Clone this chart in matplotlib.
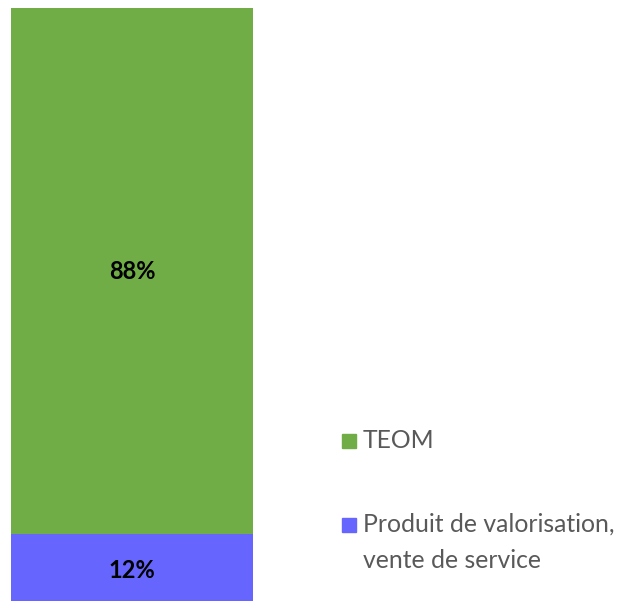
import matplotlib
matplotlib.use("Agg")
import matplotlib.pyplot as plt
from matplotlib.patches import Rectangle

categories = [""]
series_names = ["Produit de valorisation,\nvente de service", "TEOM"]
values_blue = [12]
values_green = [88]
colors = ["#6666FF", "#70AD47"]

W, H = 620, 601
fig = plt.figure(figsize=(W / 100, H / 100), dpi=100)
# bar spans pixel x 11..253, y 8..606 (clipped at bottom)
ax = fig.add_axes([11 / W, (H - 606) / H, 242 / W, 598 / H])
ax.bar(categories, values_blue, width=1.0, color=colors[0])
ax.bar(categories, values_green, bottom=values_blue, width=1.0, color=colors[1])
ax.set_xlim(-0.5, 0.5)
ax.set_ylim(0, 100)
ax.axis("off")

font = ["Lato", "DejaVu Sans"]
ax.text(0, values_blue[0] / 2, f"{values_blue[0]}%", ha="center", va="center",
        fontsize=17, fontweight="bold", color="black", family=font)
ax.text(0, values_blue[0] + values_green[0] / 2, f"{values_green[0]}%", ha="center", va="center",
        fontsize=17, fontweight="bold", color="black", family=font)

def fx(px):
    return px / W

def fy(py):
    return 1 - py / H

# legend (manual)
fig.patches.append(Rectangle((fx(342), fy(448)), 14 / W, 14 / H,
                             transform=fig.transFigure, color=colors[1], figure=fig))
fig.text(fx(363), fy(441), series_names[1], ha="left", va="center",
         fontsize=17.8, color="#595959", family=font)

fig.patches.append(Rectangle((fx(342), fy(532)), 14 / W, 14 / H,
                             transform=fig.transFigure, color=colors[0], figure=fig))
fig.text(fx(363), fy(513), series_names[0], ha="left", va="top",
         fontsize=17.8, color="#595959", family=font, linespacing=1.7)

fig.savefig("out.png", dpi=100)
